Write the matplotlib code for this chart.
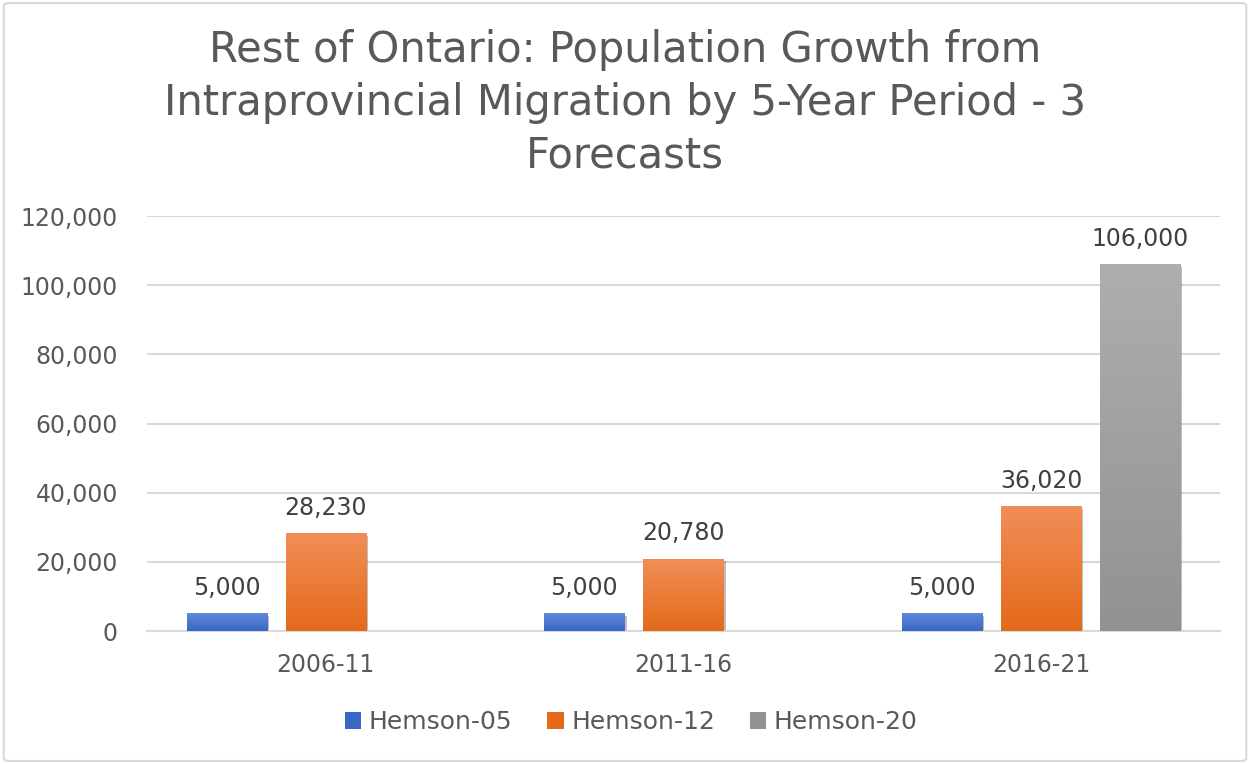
import numpy as np
import matplotlib
matplotlib.use('Agg')
import matplotlib.pyplot as plt
import matplotlib.patheffects as pe
from matplotlib.colors import LinearSegmentedColormap
from matplotlib.patches import FancyBboxPatch, Patch
from matplotlib.ticker import FuncFormatter

periods = ['2006-11', '2011-16', '2016-21']
series = ['Hemson-05', 'Hemson-12', 'Hemson-20']
hemson05 = [5000, 5000, 5000]
hemson12 = [28230, 20780, 36020]
hemson20 = [np.nan, np.nan, 106000]

# (top colour, bottom colour) for each series
shades = [('#5f8ad8', '#3868c6'), ('#f18e58', '#e46a1a'), ('#aeaeae', '#929292')]

plt.rcParams['font.family'] = ['DejaVu Sans']
text_col = '#595959'
label_col = '#404040'

fig = plt.figure(figsize=(12.5, 7.64), dpi=100)
ax = fig.add_axes([0.1176, 0.174, 0.8584, 0.543])

# light rounded frame round the whole chart
fig.patches.append(FancyBboxPatch((0.003, 0.004), 0.994, 0.992, boxstyle='round,pad=0,rounding_size=0.004',
                                  transform=fig.transFigure, fill=False, ec='#d9d9d9', lw=1.5))

x = np.arange(len(periods))
width = 0.224
offsets = [-0.277, 0, 0.277]
grad = np.linspace(0, 1, 256).reshape(-1, 1)

for vals, off, (top, bot) in zip([hemson05, hemson12, hemson20], offsets, shades):
    bars = ax.bar(x + off, vals, width, color=bot, zorder=2,
                  path_effects=[pe.SimplePatchShadow(offset=(1.5, -1.5), shadow_rgbFace='#000000', alpha=0.25),
                                pe.Normal()])
    cmap = LinearSegmentedColormap.from_list('fill', [bot, top])
    for b, v in zip(bars, vals):
        if np.isnan(v):
            continue
        x0 = b.get_x()
        ax.imshow(grad, extent=(x0, x0 + b.get_width(), 0, v), origin='lower', cmap=cmap,
                  aspect='auto', zorder=3)
        ax.annotate(f'{v:,.0f}', (b.get_x() + b.get_width() / 2, v), xytext=(0, 10),
                    textcoords='offset points', ha='center', va='bottom', fontsize=17, color=label_col)

ax.set_xlim(-0.5, 2.5)
ax.set_ylim(0, 120000)
ax.set_yticks(np.arange(0, 120001, 20000))
ax.yaxis.set_major_formatter(FuncFormatter(lambda v, p: f'{v:,.0f}'))
ax.set_xticks(x)
ax.set_xticklabels(periods)
ax.tick_params(axis='both', length=0, labelsize=17, colors=text_col)
ax.tick_params(axis='x', pad=16)
ax.tick_params(axis='y', pad=21)
ax.grid(axis='y', color='#d9d9d9', lw=1.5, zorder=0)
ax.set_axisbelow(True)
for s in ['top', 'right', 'left']:
    ax.spines[s].set_visible(False)
ax.spines['bottom'].set_color('#d9d9d9')
ax.spines['bottom'].set_linewidth(1.5)

fig.text(0.5, 1 - 103 / 764, 'Rest of Ontario: Population Growth from\nIntraprovincial Migration by 5-Year Period - 3\nForecasts',
         ha='center', va='center', fontsize=30, color=text_col, linespacing=1.32)

handles = [Patch(facecolor=bot, label=s) for s, (top, bot) in zip(series, shades)]
fig.legend(handles=handles, loc='center', bbox_to_anchor=(0.505, 1 - 722 / 764), ncol=3, frameon=False,
           fontsize=18, labelcolor=text_col, handlelength=0.65, handleheight=0.65, handletextpad=0.3,
           columnspacing=1.4)

fig.savefig('out.png', dpi=100)
